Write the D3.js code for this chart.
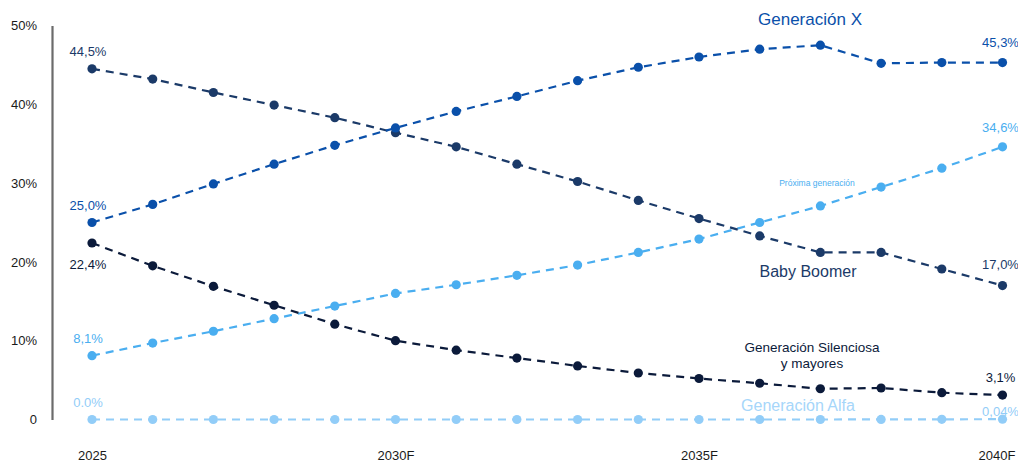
<!DOCTYPE html>
<html>
<head>
<meta charset="utf-8">
<script src="https://cdn.jsdelivr.net/npm/d3@7"></script>
<style>
  html, body { margin: 0; padding: 0; background: #fff; }
  svg { display: block; font-family: "Liberation Sans", Arial, sans-serif; }
</style>
</head>
<body>
<svg id="chart" width="1018" height="463"></svg>
<script>
const years = ["2025","2026","2027","2028","2029","2030","2031","2032","2033","2034","2035","2036","2037","2038","2039","2040"];
const xTickLabels = {"2025":"2025","2030":"2030F","2035":"2035F","2040":"2040F"};
const yTicks = [0, 10, 20, 30, 40, 50];

const genX        = [25.0, 27.3, 29.9, 32.4, 34.8, 37.0, 39.1, 41.0, 43.0, 44.7, 46.0, 47.0, 47.5, 45.2, 45.3, 45.3];
const babyBoomer  = [44.5, 43.2, 41.5, 39.9, 38.3, 36.4, 34.6, 32.4, 30.2, 27.8, 25.5, 23.3, 21.2, 21.2, 19.1, 17.0];
const silenciosa  = [22.4, 19.5, 16.9, 14.5, 12.1, 10.0, 8.8, 7.8, 6.8, 5.9, 5.2, 4.6, 3.9, 4.0, 3.4, 3.1];
const proxima     = [8.1, 9.7, 11.2, 12.8, 14.4, 16.0, 17.1, 18.3, 19.6, 21.2, 22.9, 25.0, 27.1, 29.5, 31.9, 34.6];
const alfa        = [0.0, 0.0, 0.0, 0.0, 0.0, 0.0, 0.0, 0.0, 0.0, 0.0, 0.0, 0.0, 0.0, 0.01, 0.02, 0.04];

const seriesNames = ["Generación X", "Baby Boomer", "Generación Silenciosa y mayores", "Próxima generación", "Generación Alfa"];
const startLabels = ["25,0%", "44,5%", "22,4%", "8,1%", "0.0%"];
const endLabels   = ["45,3%", "17,0%", "3,1%", "34,6%", "0,04%"];

const colors = ["#0a50aa", "#1b3a68", "#0b1a3a", "#4aaef0", "#92cdf8"];
const seriesValues = [genX, babyBoomer, silenciosa, proxima, alfa];

const svg = d3.select("#chart");
const x = d3.scalePoint().domain(years).range([92, 1002.5]);
const y = d3.scaleLinear().domain([0, 50]).range([419.5, 25.5]);

// y axis
const yAxis = d3.axisLeft(y).tickValues(yTicks).tickSize(0).tickPadding(15)
  .tickFormat(d => d === 0 ? "0" : d + "%");
const gy = svg.append("g").attr("transform", "translate(52,0)").call(yAxis);
gy.select(".domain").attr("stroke", "#6b6b6b").attr("stroke-width", 2.2);
gy.selectAll("text").attr("font-size", 13).attr("fill", "#1a1a1a")
  .attr("font-family", "Liberation Sans, Arial, sans-serif");

// x axis (labels only)
const xAxis = d3.axisBottom(x).tickValues(Object.keys(xTickLabels)).tickSize(0).tickPadding(0)
  .tickFormat(d => xTickLabels[d]);
const gx = svg.append("g").attr("transform", "translate(0,451)").call(xAxis);
gx.select(".domain").remove();
gx.selectAll("text").attr("font-size", 13).attr("fill", "#1a1a1a")
  .attr("font-family", "Liberation Sans, Arial, sans-serif")
  .attr("dx", d => d === "2040" ? -6 : 0);

const line = d3.line().x((d, i) => x(years[i])).y(d => y(d));

const drawOrder = [4, 3, 2, 1, 0];
drawOrder.forEach(si => {
  const vals = seriesValues[si];
  const g = svg.append("g");
  g.append("path").datum(vals).attr("d", line)
    .attr("fill", "none").attr("stroke", colors[si]).attr("stroke-width", 2.2)
    .attr("stroke-dasharray", "8,6");
  g.selectAll("circle").data(vals).join("circle")
    .attr("cx", (d, i) => x(years[i])).attr("cy", d => y(d)).attr("r", 4.6)
    .attr("fill", colors[si]);
});

// start labels
const startOffsets = [-13, -13, 26, -13, -12.5];
seriesValues.forEach((vals, si) => {
  svg.append("text").attr("x", x(years[0]) - 4).attr("y", y(vals[0]) + startOffsets[si])
    .attr("text-anchor", "middle").attr("font-size", 13).attr("fill", colors[si])
    .text(startLabels[si]);
});

// end labels
const endOffsets = [-16, -17, -13, -15, -3.5];
seriesValues.forEach((vals, si) => {
  const last = vals.length - 1;
  svg.append("text").attr("x", x(years[last]) - 2).attr("y", y(vals[last]) + endOffsets[si])
    .attr("text-anchor", "middle").attr("font-size", 13).attr("fill", colors[si])
    .text(endLabels[si]);
});

// series name labels
svg.append("text").attr("x", 810).attr("y", 25).attr("text-anchor", "middle")
  .attr("font-size", 17).attr("fill", colors[0]).text(seriesNames[0]);
svg.append("text").attr("x", 808).attr("y", 277).attr("text-anchor", "middle")
  .attr("font-size", 16).attr("fill", colors[1]).text(seriesNames[1]);
const sil = svg.append("text").attr("text-anchor", "middle").attr("font-size", 13.5).attr("fill", colors[2]);
sil.append("tspan").attr("x", 812).attr("y", 352).text("Generación Silenciosa");
sil.append("tspan").attr("x", 812).attr("y", 368).text("y mayores");
svg.append("text").attr("x", 817).attr("y", 186).attr("text-anchor", "middle")
  .attr("font-size", 8.5).attr("fill", colors[3]).text(seriesNames[3]);
svg.append("text").attr("x", 798).attr("y", 411).attr("text-anchor", "middle")
  .attr("font-size", 16).attr("fill", "#a6d6fa").text(seriesNames[4]);
</script>
</body>
</html>
